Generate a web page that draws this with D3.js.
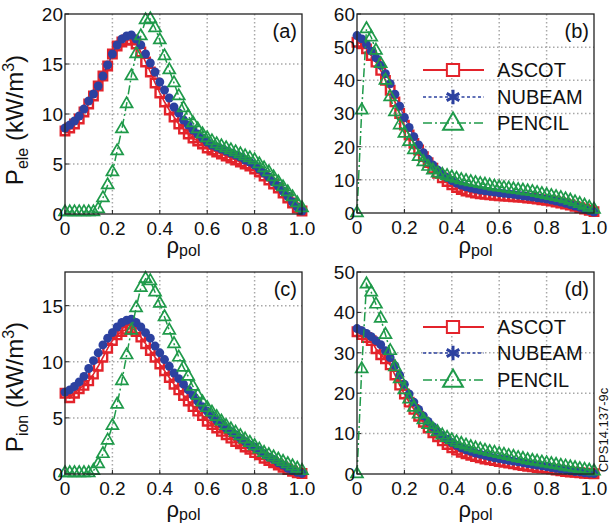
<!DOCTYPE html>
<html><head><meta charset="utf-8">
<script src="https://cdn.jsdelivr.net/npm/d3@7"></script>
<style>body{margin:0;background:#fff}svg{display:block}text{font-family:"Liberation Sans",Arial,Helvetica,sans-serif;fill:#111}</style>
</head><body><svg id="chart" width="611" height="531"></svg>
<script>
const rho = [0,0.02,0.04,0.06,0.08,0.1,0.12,0.14,0.16,0.18,0.2,0.22,0.24,0.26,0.28,0.3,0.32,0.34,0.36,0.38,0.4,0.42,0.44,0.46,0.48,0.5,0.52,0.54,0.56,0.58,0.6,0.62,0.64,0.66,0.68,0.7,0.72,0.74,0.76,0.78,0.8,0.82,0.84,0.86,0.88,0.9,0.92,0.94,0.96,0.98,1.0];
const seriesNames = ["ASCOT","NUBEAM","PENCIL"];
const panelLabels = ["(a)","(b)","(c)","(d)"];

// (a) electron heating
const aAscot  = [8.3,8.6,9.0,9.5,10.2,11.0,11.8,12.8,13.8,14.8,16.0,16.8,17.2,17.4,17.4,17.0,16.2,15.2,14.2,13.1,12.1,11.2,10.4,9.7,9.0,8.5,8.0,7.6,7.3,7.0,6.6,6.4,6.2,6.0,5.8,5.6,5.4,5.2,5.0,4.8,4.5,4.2,3.8,3.4,3.0,2.6,2.1,1.6,1.1,0.6,0.3];
const aNubeam = [8.6,8.9,9.3,9.8,10.5,11.3,12.0,12.8,13.8,14.9,16.0,16.9,17.5,17.8,17.9,17.5,16.9,16.0,15.1,14.2,13.2,12.4,11.6,10.7,10.1,9.4,8.9,8.4,8.0,7.6,7.2,6.9,6.7,6.5,6.3,6.1,5.9,5.7,5.4,5.2,4.9,4.5,4.1,3.7,3.2,2.8,2.3,1.8,1.2,0.7,0.3];
const aPencil = [0.2,0.2,0.2,0.2,0.2,0.2,0.2,0.5,1.6,2.9,4.2,6.3,8.5,11.0,13.8,16.0,17.8,19.4,19.5,18.6,17.4,15.8,14.4,13.1,11.8,10.6,9.8,9.1,8.5,8.0,7.6,7.3,7.0,6.8,6.6,6.4,6.2,6.0,5.8,5.6,5.4,5.0,4.6,4.2,3.7,3.2,2.7,2.2,1.7,1.1,0.6];
// (b)
const bAscot  = [51.5,51.0,49.5,47.5,45.5,43.0,40.0,37.0,33.5,30.0,26.5,23.5,21.0,19.0,17.0,15.2,13.5,12.0,10.6,9.5,8.5,7.7,7.1,6.6,6.3,6.0,5.8,5.6,5.5,5.3,5.2,5.1,5.0,4.9,4.8,4.7,4.5,4.4,4.2,4.0,3.8,3.6,3.3,3.0,2.7,2.4,2.0,1.6,1.2,0.8,0.4];
const bNubeam = [53.5,52.5,50.8,48.8,46.8,44.5,42.0,39.0,35.8,32.2,28.8,25.8,23.0,20.5,18.2,16.2,14.5,13.0,11.8,10.7,9.8,9.0,8.4,7.9,7.5,7.2,6.9,6.7,6.5,6.3,6.1,5.9,5.8,5.6,5.4,5.2,5.0,4.8,4.6,4.4,4.2,3.9,3.6,3.3,2.9,2.5,2.1,1.7,1.2,0.7,0.3];
const bPencil = [0,31,55.5,53,49,45,40,35,30.5,26.5,24,21.5,19,17,15.4,14,12.9,12,11.6,11.2,10.8,10.4,10.0,9.7,9.4,9.1,8.8,8.6,8.3,8.0,7.8,7.6,7.4,7.2,7.0,6.8,6.6,6.4,6.1,5.8,5.5,5.2,4.9,4.6,4.2,3.8,3.3,2.8,2.3,1.7,1.1];
// (c) ion heating
const cAscot  = [7.2,6.8,7.2,7.6,7.9,8.3,8.9,9.6,10.4,11.2,11.9,12.4,12.7,12.9,13.0,12.7,12.2,11.6,11.0,10.4,9.8,9.2,8.6,8.0,7.5,7.0,6.5,6.0,5.6,5.2,4.7,4.4,4.1,3.8,3.5,3.2,2.9,2.7,2.4,2.2,1.9,1.7,1.4,1.2,1.0,0.8,0.6,0.4,0.25,0.1,0.05];
const cNubeam = [7.3,7.5,7.8,8.2,8.7,9.4,10.1,10.8,11.5,12.1,12.6,13.1,13.5,13.7,13.8,13.5,13.1,12.6,12.1,11.4,10.8,10.2,9.6,9.0,8.5,8.0,7.5,7.0,6.5,6.0,5.6,5.2,4.8,4.5,4.1,3.8,3.5,3.2,2.9,2.6,2.4,2.1,1.8,1.5,1.3,1.0,0.8,0.5,0.3,0.15,0.05];
const cPencil = [0.1,0.1,0.1,0.1,0.1,0.1,0.3,0.9,1.8,3.0,4.3,6.2,8.3,10.6,12.8,14.8,16.6,17.4,17.2,16.2,15.2,14.0,12.8,11.6,10.4,9.5,8.7,7.8,7.0,6.4,5.9,5.5,5.1,4.7,4.3,4.0,3.7,3.4,3.1,2.8,2.5,2.2,1.9,1.7,1.5,1.3,1.1,0.9,0.7,0.5,0.3];
// (d)
const dAscot  = [35.2,34.5,33.8,33.0,31.0,29.5,28.5,27.0,24.5,22.0,19.8,17.8,16.0,14.3,12.8,11.4,10.2,9.2,8.2,7.3,6.5,5.9,5.4,5.0,4.6,4.3,4.0,3.7,3.5,3.3,3.1,2.9,2.7,2.5,2.3,2.1,1.9,1.8,1.6,1.5,1.4,1.2,1.0,0.8,0.6,0.5,0.4,0.3,0.2,0.1,0.05];
const dNubeam = [36.0,35.5,34.8,34.0,33.0,32.0,30.5,28.8,26.8,24.5,22.2,19.8,17.8,16.0,14.4,13.0,11.7,10.5,9.5,8.6,7.8,7.1,6.5,6.0,5.6,5.2,4.9,4.6,4.3,4.0,3.8,3.6,3.4,3.2,3.0,2.8,2.6,2.4,2.2,2.0,1.8,1.6,1.4,1.2,1.0,0.8,0.6,0.5,0.3,0.2,0.1];
const dPencil = [0,26,47,45,42,38.5,34.5,30.5,26.5,23.5,20.8,18.5,16.5,14.8,13.4,12.2,11.2,10.4,9.6,9.0,8.4,7.9,7.5,7.1,6.7,6.4,6.1,5.8,5.5,5.3,5.0,4.8,4.5,4.3,4.0,3.8,3.5,3.3,3.1,2.9,2.7,2.5,2.3,2.1,1.9,1.7,1.5,1.3,1.1,0.9,0.7];

const xTicks = [0,0.2,0.4,0.6,0.8,1.0];
const xTickLabels = ["0","0.2","0.4","0.6","0.8","1.0"];
const yTicksA = [0,5,10,15,20];
const yTicksB = [0,10,20,30,40,50,60];
const yTicksC = [0,5,10,15];
const yTicksD = [0,10,20,30,40,50];

const styles = [
  {color:'#e3232b', dash:null, sym:d3.symbolSquare, size:72, fill:'none', sw:2.4, lsw:1.6},
  {color:'#2c41a0', dash:'3,2.5', sym:d3.symbolCircle, size:62, fill:'#2c41a0', sw:0, lsw:1.2},
  {color:'#1f9a4a', dash:'9,3,2,3', sym:d3.symbolTriangle, size:62, fill:'none', sw:1.7, lsw:1.5}
];

const panels = [
  {box:[65,302,14,214], ymax:20, yticks:yTicksA, data:[aAscot,aNubeam,aPencil], ylab:'ele', ylabY:120, legend:null, xlabOff:39},
  {box:[357,594,14,213], ymax:60, yticks:yTicksB, data:[bAscot,bNubeam,bPencil], ylab:null, legend:[70,97,123], xlabOff:40},
  {box:[65,272,474].length?[65,302,272,474]:null, ymax:18, yticks:yTicksC, data:[cAscot,cNubeam,cPencil], ylab:'ion', ylabY:387, legend:null, xlabOff:43},
  {box:[357,594,272,474], ymax:50, yticks:yTicksD, data:[dAscot,dNubeam,dPencil], ylab:null, legend:[327,353,380], xlabOff:43}
];

const svg = d3.select('#chart');

panels.forEach((p, pi) => {
  const [x0,x1,y0,y1] = p.box;
  const x = d3.scaleLinear().domain([0,1]).range([x0,x1]);
  const y = d3.scaleLinear().domain([0,p.ymax]).range([y1,y0]);
  const g = svg.append('g');

  // grid
  g.selectAll('.gx').data(xTicks.slice(1,-1)).enter().append('line')
    .attr('x1',d=>x(d)).attr('x2',d=>x(d)).attr('y1',y0).attr('y2',y1)
    .attr('stroke','#a8a8a8').attr('stroke-width',1.5).attr('stroke-dasharray','1.5,2.5');
  g.selectAll('.gy').data(p.yticks.filter(t=>t>0 && t<p.ymax)).enter().append('line')
    .attr('x1',x0).attr('x2',x1).attr('y1',d=>y(d)).attr('y2',d=>y(d))
    .attr('stroke','#a8a8a8').attr('stroke-width',1.5).attr('stroke-dasharray','1.5,2.5');

  // inward tick marks
  g.selectAll('.tx').data(xTicks).enter().append('line')
    .attr('x1',d=>x(d)).attr('x2',d=>x(d)).attr('y1',y1).attr('y2',y1-4)
    .attr('stroke','#222').attr('stroke-width',1);
  g.selectAll('.ty').data(p.yticks).enter().append('line')
    .attr('x1',x0).attr('x2',x0+4).attr('y1',d=>y(d)).attr('y2',d=>y(d))
    .attr('stroke','#222').attr('stroke-width',1);

  // series
  p.data.forEach((vals, si) => {
    const s = styles[si];
    const pts = rho.map((r,i)=>[r, vals[i]]);
    g.append('path').datum(pts)
      .attr('d', d3.line().x(d=>x(d[0])).y(d=>y(d[1])))
      .attr('fill','none').attr('stroke',s.color).attr('stroke-width',s.lsw)
      .attr('stroke-dasharray',s.dash);
    g.selectAll(null).data(pts).enter().append('path')
      .attr('transform',d=>`translate(${x(d[0])},${y(d[1])})`)
      .attr('d', d3.symbol().type(s.sym).size(s.size)())
      .attr('fill',s.fill).attr('stroke',s.sw? s.color:'none').attr('stroke-width',s.sw);
  });

  // frame
  g.append('rect').attr('x',x0).attr('y',y0).attr('width',x1-x0).attr('height',y1-y0)
    .attr('fill','none').attr('stroke','#222').attr('stroke-width',1.3);

  // tick labels
  g.selectAll('.xt').data(xTicks).enter().append('text')
    .attr('x',d=>x(d)).attr('y',y1+21).attr('text-anchor','middle')
    .style('font-size','19px').text((d,i)=>xTickLabels[i]);
  g.selectAll('.yt').data(p.yticks).enter().append('text')
    .attr('x',x0-2).attr('y',d=>y(d)).attr('dy','0.36em').attr('text-anchor','end')
    .style('font-size','19px').text(d=>d);

  // panel label
  g.append('text').attr('x',x1-5).attr('y',y0+24).attr('text-anchor','end')
    .style('font-size','20px').text(panelLabels[pi]);

  // x label
  const xl = g.append('text').attr('x',(x0+x1)/2).attr('y',y1+p.xlabOff).attr('text-anchor','middle');
  xl.append('tspan').style('font-size','22px').text('ρ');
  xl.append('tspan').attr('dy',3).style('font-size','16px').text('pol');

  // y label
  if (p.ylab) {
    const yl = g.append('text').attr('transform',`translate(23,${p.ylabY}) rotate(-90)`).attr('text-anchor','middle');
    yl.append('tspan').style('font-size','24px').text('P');
    yl.append('tspan').attr('dy',5).style('font-size','16px').text(p.ylab);
    yl.append('tspan').attr('dy',-5).style('font-size','24px').text(' (kW/m');
    yl.append('tspan').attr('dy',-9).style('font-size','16px').text('3');
    yl.append('tspan').attr('dy',9).style('font-size','24px').text(')');
  }

  // legend
  if (p.legend) {
    const legSizes = [150, 150, 170];
    p.legend.forEach((ly, si) => {
      const s = styles[si];
      g.append('line').attr('x1',423).attr('x2',484).attr('y1',ly).attr('y2',ly)
        .attr('stroke',s.color).attr('stroke-width',si===0?2.2:1.5).attr('stroke-dasharray',s.dash);
      const sym = si===1 ? d3.symbolAsterisk : s.sym;
      g.append('path').attr('transform',`translate(453,${ly + (si===2?1:0)})`)
        .attr('d', d3.symbol().type(sym).size(legSizes[si])())
        .attr('fill', si===0 ? '#fff' : 'none')
        .attr('stroke',s.color).attr('stroke-width', si===1?3:2);
      g.append('text').attr('x',497).attr('y',ly).attr('dy','0.36em')
        .style('font-size','20px').text(seriesNames[si]);
    });
  }
});

svg.append('text').attr('transform','translate(608,430) rotate(-90)').attr('text-anchor','middle')
  .style('font-size','13px').text('CPS14.137-9c');
</script></body></html>
